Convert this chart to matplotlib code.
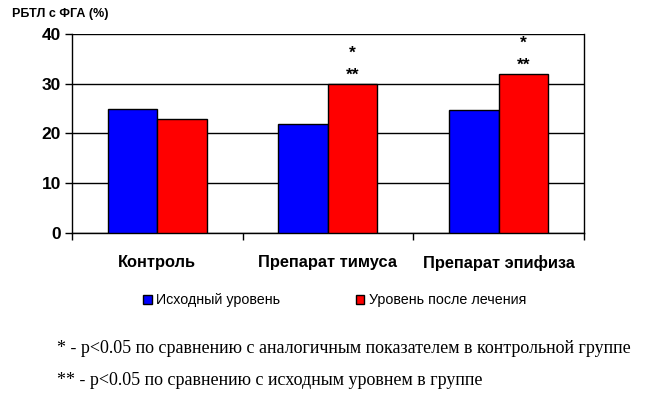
import matplotlib.pyplot as plt
import numpy as np

# data
groups = ['Контроль', 'Препарат тимуса', 'Препарат эпифиза']
baseline = [25, 22, 24.8]        # Исходный уровень
after_treatment = [23, 30, 32]   # Уровень после лечения
marks = ['', '*\n**', '*\n**']   # significance marks over the red bars
series_names = ['Исходный уровень', 'Уровень после лечения']
footnotes = ['* - p<0.05 по сравнению с аналогичным показателем в контрольной группе',
             '** - p<0.05 по сравнению с исходным уровнем в группе']

plt.rcParams['font.family'] = ['Liberation Sans', 'DejaVu Sans']

fig = plt.figure(figsize=(6.52, 3.98), dpi=100)
ax = fig.add_axes([0.1104, 0.4146, 0.7853, 0.5])

x = np.arange(len(groups))
w = 0.29
b1 = ax.bar(x - w / 2, baseline, w, color='#0000ff', edgecolor='black', linewidth=1,
            label=series_names[0], zorder=3)
b2 = ax.bar(x + w / 2, after_treatment, w, color='#ff0000', edgecolor='black', linewidth=1,
            label=series_names[1], zorder=3)

# stars over the red bars
for xi, yi, m in zip(x, after_treatment, marks):
    if m:
        ax.annotate(m, (xi + w / 2, yi), xytext=(0, 1), textcoords='offset points',
                    ha='center', va='bottom', fontsize=12.5, fontweight='bold',
                    linespacing=1.55)

ax.set_ylim(0, 40)
ax.set_xlim(-0.5, len(groups) - 0.5)
ax.set_yticks([0, 10, 20, 30, 40])
ax.yaxis.grid(True, color='black', linewidth=1)
ax.set_axisbelow(True)
for s in ax.spines.values():
    s.set_linewidth(1)
ax.spines['top'].set_visible(False)

ax.set_xticks(x)
ax.set_xticklabels(groups, fontsize=11.8, fontweight='bold')
ax.set_xticks(np.arange(len(groups) + 1) - 0.5, minor=True)
ax.tick_params(axis='x', which='major', length=0, pad=16)
ax.tick_params(axis='x', which='minor', length=5, width=1, direction='out')
ax.tick_params(axis='y', length=5, width=1, labelsize=12.5, pad=3)
for t in ax.get_yticklabels():
    t.set_fontweight('bold')

fig.text(0.018, 0.965, 'РБТЛ с ФГА (%)', fontsize=9, fontweight='bold', va='center')

fig.legend(handles=[b1, b2], loc='center', bbox_to_anchor=(0.513, 0.245), ncol=2,
           frameon=False, fontsize=10.3, handlelength=0.6, handleheight=0.6,
           handletextpad=0.3, columnspacing=5.3)

fig.text(0.087, 0.125, footnotes[0], fontsize=13, family='Liberation Serif', va='center')
fig.text(0.087, 0.045, footnotes[1], fontsize=13, family='Liberation Serif', va='center')

fig.savefig('out.png', dpi=100)
